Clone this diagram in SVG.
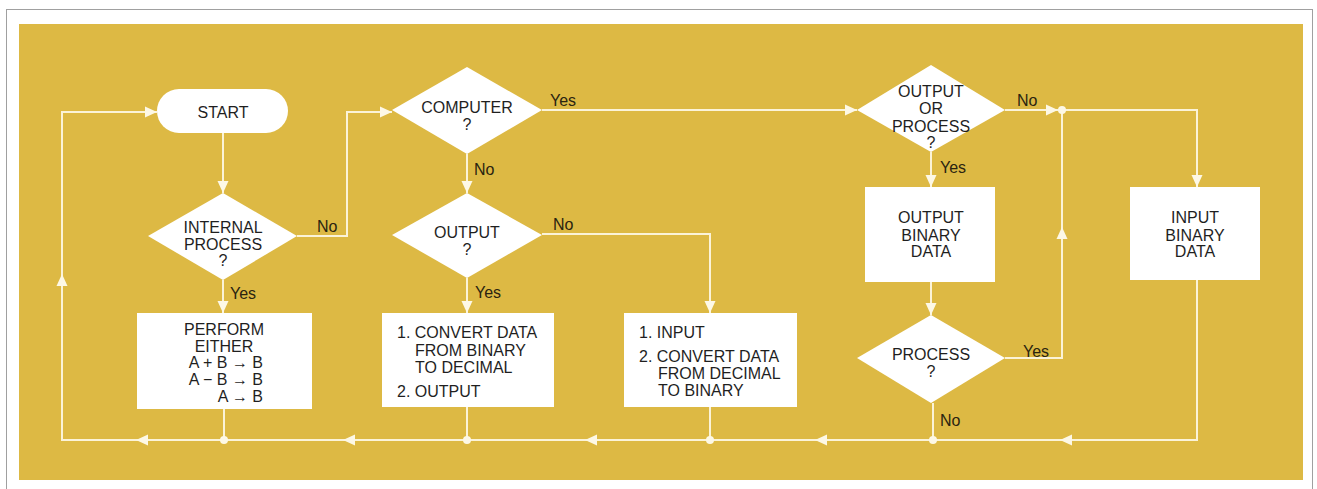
<svg xmlns="http://www.w3.org/2000/svg" xmlns:xlink="http://www.w3.org/1999/xlink" width="1317" height="489" viewBox="0 0 1317 489">
<style>
.bg{fill:#ddb944}
.node{fill:#ffffff}
.t{font-family:"Liberation Sans",Arial,sans-serif;font-size:16px;fill:#1f1f1f;text-anchor:middle}
.ts{font-family:"Liberation Sans",Arial,sans-serif;font-size:16px;fill:#1f1f1f;text-anchor:start}
.te{font-family:"Liberation Sans",Arial,sans-serif;font-size:16px;fill:#1f1f1f;text-anchor:end}
.lbl{font-family:"Liberation Sans",Arial,sans-serif;font-size:16px;fill:#2a2410;text-anchor:start}
.ln{fill:none;stroke:#fbf3d8;stroke-width:2}
.ah{fill:#fdf8e6}
.dot{fill:#fdf8e6}
</style>
<defs>
<path id="ah" d="M0,0 L-12,-5.5 L-12,5.5 Z"/>
</defs>
<rect x="0" y="0" width="1317" height="489" fill="#ffffff"/>
<rect x="6.5" y="9.5" width="1306" height="485" fill="none" stroke="#a0a0a0" stroke-width="1"/>
<rect class="bg" x="19" y="24" width="1284" height="456"/>

<g id="connectors">
<path class="ln" d="M223,133 V193"/>
<path class="ln" d="M297,236 H347 V112 H392"/>
<path class="ln" d="M542,110 H857"/>
<path class="ln" d="M467,154 V193"/>
<path class="ln" d="M542,234 H710 V313"/>
<path class="ln" d="M467,278 V313"/>
<path class="ln" d="M223,280 V313"/>
<path class="ln" d="M931,152 V187"/>
<path class="ln" d="M931,282 V315"/>
<path class="ln" d="M1005,110 H1197 V187"/>
<path class="ln" d="M1005,358 H1062 V110"/>
<path class="ln" d="M1197,280 V440 H62 V112 H157"/>
<path class="ln" d="M224,409 V440"/>
<path class="ln" d="M467,407 V440"/>
<path class="ln" d="M710,407 V440"/>
<path class="ln" d="M933,403 V440"/>
<use class="ah" xlink:href="#ah" transform="translate(157,112)"/>
<use class="ah" xlink:href="#ah" transform="translate(223,193) rotate(90)"/>
<use class="ah" xlink:href="#ah" transform="translate(392,112)"/>
<use class="ah" xlink:href="#ah" transform="translate(467,193) rotate(90)"/>
<use class="ah" xlink:href="#ah" transform="translate(710,313) rotate(90)"/>
<use class="ah" xlink:href="#ah" transform="translate(467,313) rotate(90)"/>
<use class="ah" xlink:href="#ah" transform="translate(223,313) rotate(90)"/>
<use class="ah" xlink:href="#ah" transform="translate(857,110)"/>
<use class="ah" xlink:href="#ah" transform="translate(931,187) rotate(90)"/>
<use class="ah" xlink:href="#ah" transform="translate(931,315) rotate(90)"/>
<use class="ah" xlink:href="#ah" transform="translate(1058,110)"/>
<use class="ah" xlink:href="#ah" transform="translate(1197,187) rotate(90)"/>
<use class="ah" xlink:href="#ah" transform="translate(1062,227) rotate(-90)"/>
<use class="ah" xlink:href="#ah" transform="translate(62,274) rotate(-90)"/>
<use class="ah" xlink:href="#ah" transform="translate(1060,440) rotate(180)"/>
<use class="ah" xlink:href="#ah" transform="translate(815,440) rotate(180)"/>
<use class="ah" xlink:href="#ah" transform="translate(585,440) rotate(180)"/>
<use class="ah" xlink:href="#ah" transform="translate(343,440) rotate(180)"/>
<use class="ah" xlink:href="#ah" transform="translate(136,440) rotate(180)"/>
<circle class="dot" cx="1062" cy="110" r="4"/>
<circle class="dot" cx="224" cy="440" r="4"/>
<circle class="dot" cx="467" cy="440" r="4"/>
<circle class="dot" cx="710" cy="440" r="4"/>
<circle class="dot" cx="933" cy="440" r="4"/>
<text class="lbl" x="317" y="232">No</text>
<text class="lbl" x="550" y="106">Yes</text>
<text class="lbl" x="474" y="175">No</text>
<text class="lbl" x="553" y="230">No</text>
<text class="lbl" x="475" y="298">Yes</text>
<text class="lbl" x="230" y="299">Yes</text>
<text class="lbl" x="1017" y="106">No</text>
<text class="lbl" x="940" y="173">Yes</text>
<text class="lbl" x="1023" y="357">Yes</text>
<text class="lbl" x="940" y="426">No</text>
</g>

<g id="start">
<rect class="node" x="157" y="89" width="131" height="44" rx="22"/>
<text class="t" x="223" y="118">START</text>
</g>

<g id="internal-process">
<polygon class="node" points="223,193 297,236 223,280 148,236"/>
<text class="t" x="223" y="233">INTERNAL</text>
<text class="t" x="223" y="250">PROCESS</text>
<text class="t" x="223" y="266">?</text>
</g>

<g id="perform">
<rect class="node" x="137" y="313" width="175" height="96"/>
<text class="t" x="224" y="335">PERFORM</text>
<text class="t" x="224" y="352">EITHER</text>
<text class="te" x="263" y="368">A + B → B</text>
<text class="te" x="263" y="385">A − B → B</text>
<text class="te" x="263" y="402">A → B</text>
</g>

<g id="computer">
<polygon class="node" points="467,67 542,110 467,154 392,110"/>
<text class="t" x="467" y="113">COMPUTER</text>
<text class="t" x="467" y="130">?</text>
</g>

<g id="output">
<polygon class="node" points="467,193 542,235 467,278 392,235"/>
<text class="t" x="467" y="238">OUTPUT</text>
<text class="t" x="467" y="255">?</text>
</g>

<g id="convert-to-decimal">
<rect class="node" x="382" y="313" width="172" height="94"/>
<text class="ts" x="397" y="338">1. CONVERT DATA</text>
<text class="ts" x="415" y="356">FROM BINARY</text>
<text class="ts" x="415" y="373">TO DECIMAL</text>
<text class="ts" x="397" y="397">2. OUTPUT</text>
</g>

<g id="input-convert">
<rect class="node" x="624" y="313" width="173" height="94"/>
<text class="ts" x="639" y="338">1. INPUT</text>
<text class="ts" x="639" y="362">2. CONVERT DATA</text>
<text class="ts" x="658" y="379">FROM DECIMAL</text>
<text class="ts" x="658" y="396">TO BINARY</text>
</g>

<g id="output-or-process">
<polygon class="node" points="931,65 1005,110 931,152 857,110"/>
<text class="t" x="931" y="97">OUTPUT</text>
<text class="t" x="931" y="114">OR</text>
<text class="t" x="931" y="132">PROCESS</text>
<text class="t" x="931" y="148">?</text>
</g>

<g id="output-binary-data">
<rect class="node" x="865" y="187" width="130" height="95"/>
<text class="t" x="931" y="223">OUTPUT</text>
<text class="t" x="931" y="241">BINARY</text>
<text class="t" x="931" y="257">DATA</text>
</g>

<g id="process">
<polygon class="node" points="931,315 1005,358 931,403 857,358"/>
<text class="t" x="931" y="360">PROCESS</text>
<text class="t" x="931" y="377">?</text>
</g>

<g id="input-binary-data">
<rect class="node" x="1130" y="187" width="130" height="93"/>
<text class="t" x="1195" y="223">INPUT</text>
<text class="t" x="1195" y="241">BINARY</text>
<text class="t" x="1195" y="257">DATA</text>
</g>
</svg>
